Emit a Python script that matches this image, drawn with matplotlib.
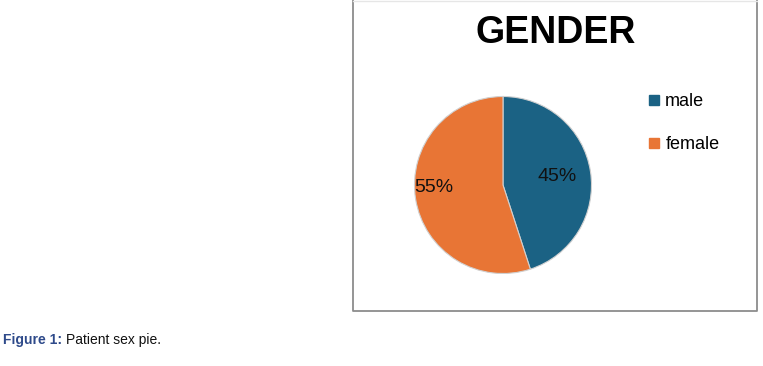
import matplotlib
matplotlib.use('Agg')
import matplotlib.pyplot as plt
from matplotlib.lines import Line2D

# data
labels = ['male', 'female']
shares = [45, 55]
colors = ['#1b6284', '#e87535']

plt.rcParams['font.family'] = ['Liberation Sans', 'DejaVu Sans']

W, H = 763, 366
fig = plt.figure(figsize=(W / 100, H / 100), dpi=100)

# chart frame (top edge is cut off in the original, only a faint line)
x0, x1, yb = 353 / W, 757 / W, 1 - 311 / H
fig.add_artist(Line2D([x0, x0, x1, x1], [1, yb, yb, 1], transform=fig.transFigure,
                      color='#8c8c8c', linewidth=1.3))
fig.add_artist(Line2D([x0, x1], [1 - 0.5 / H, 1 - 0.5 / H], transform=fig.transFigure,
                      color='#e6e6e6', linewidth=1))

fig.text(556 / W, 1 - 33 / H, 'GENDER', ha='center', va='center',
         fontsize=27, fontweight='bold')

# pie
cx, cy, r = 503, 185, 88.5
ax = fig.add_axes([(cx - r) / W, 1 - (cy + r) / H, 2 * r / W, 2 * r / H])
wedges, _, pcts = ax.pie(shares, colors=colors, startangle=90, counterclock=False,
                         autopct='%1.0f%%', pctdistance=0.62,
                         wedgeprops=dict(linewidth=0.8, edgecolor='#d0d0d0'),
                         textprops=dict(fontsize=14, color='#111111'))
pcts[1].set_position((-0.78, -0.03))
ax.set_xlim(-1, 1)
ax.set_ylim(-1, 1)
ax.set_aspect('equal')
ax.axis('off')

# legend
handles = [Line2D([0], [0], marker='s', linestyle='', markersize=6.5,
                  markerfacecolor=c, markeredgecolor=c) for c in colors]
fig.legend(handles, labels, loc='upper left',
           bbox_to_anchor=(640 / W, 1 - 86 / H), frameon=False,
           fontsize=13, handlelength=0.7, handletextpad=0.3,
           labelspacing=1.45, borderaxespad=0)

# caption
t1 = fig.text(3 / W, 1 - 340 / H, 'Figure 1:', fontsize=10, fontweight='bold',
              color='#2e4a8a', va='center')
fig.canvas.draw()
bb = t1.get_window_extent()
fig.text((bb.x1 + 4) / W, 1 - 340 / H, 'Patient sex pie.', fontsize=10,
         color='#111111', va='center')

fig.savefig('out.png', dpi=100)
